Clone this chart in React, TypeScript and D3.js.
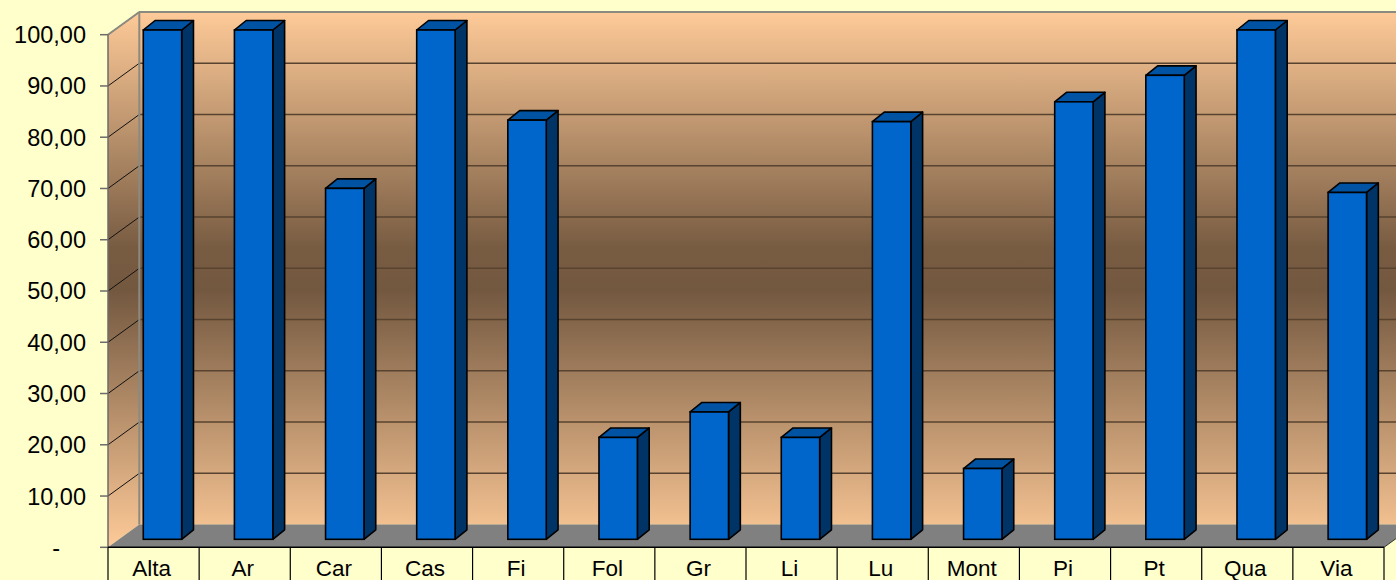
import { useEffect, useRef } from 'react'
import * as d3 from 'd3'

const categories = ['Alta', 'Ar', 'Car', 'Cas', 'Fi', 'Fol', 'Gr', 'Li', 'Lu', 'Mont', 'Pi', 'Pt', 'Qua', 'Via']
const values = [100, 100, 68.9, 100, 82.3, 20, 25, 20, 82, 13.9, 85.9, 91.1, 100, 68.1]
const tickValues = [0, 10, 20, 30, 40, 50, 60, 70, 80, 90, 100]

export default function App() {
  const svgRef = useRef<SVGSVGElement>(null)

  useEffect(() => {
    if (!svgRef.current) return
    document.body.style.margin = '0'
    document.body.style.background = '#FFFFCC'

    const svg = d3.select(svgRef.current)
    svg.selectAll('*').remove()

    const W = 1396
    const H = 580
    // oblique depth of the wall
    const depthX = 31.3
    const depthY = 22.7
    const font = 'Arial, "Liberation Sans", sans-serif'

    const x = d3.scaleBand<string>().domain(categories).range([108, 1384]).paddingInner(0).paddingOuter(0)
    const yFront = d3.scaleLinear().domain([0, 100]).range([547.3, 34.7])
    const yBar = d3.scaleLinear().domain([0, 100]).range([539.3, 30])

    const x0 = 108
    const xBack = x0 + depthX

    const defs = svg.append('defs')
    const grad = defs.append('linearGradient')
      .attr('id', 'wallGrad')
      .attr('gradientUnits', 'userSpaceOnUse')
      .attr('x1', 0).attr('x2', 0)
      .attr('y1', yFront(100) - depthY).attr('y2', yFront(0))
    grad.append('stop').attr('offset', '0%').attr('stop-color', '#FECA98')
    grad.append('stop').attr('offset', '44%').attr('stop-color', '#785C42')
    grad.append('stop').attr('offset', '52%').attr('stop-color', '#735840')
    grad.append('stop').attr('offset', '100%').attr('stop-color', '#FECA98')

    // back wall
    svg.append('rect')
      .attr('x', xBack)
      .attr('y', yFront(100) - depthY)
      .attr('width', W - xBack)
      .attr('height', yFront(0) - yFront(100))
      .attr('fill', 'url(#wallGrad)')

    // left side wall
    svg.append('polygon')
      .attr('points', [
        [x0, yFront(100)], [xBack, yFront(100) - depthY],
        [xBack, yFront(0) - depthY], [x0, yFront(0)]
      ].map(p => p.join(',')).join(' '))
      .attr('fill', 'url(#wallGrad)')

    // gridlines on back wall
    svg.append('g')
      .selectAll('line')
      .data(tickValues.slice(1))
      .join('line')
      .attr('x1', xBack)
      .attr('x2', W)
      .attr('y1', d => yFront(d) - depthY)
      .attr('y2', d => yFront(d) - depthY)
      .attr('stroke', '#57432F')
      .attr('stroke-width', 1.5)

    // gridlines on side wall
    svg.append('g')
      .selectAll('line')
      .data(tickValues.slice(1))
      .join('line')
      .attr('x1', x0)
      .attr('x2', xBack)
      .attr('y1', d => yFront(d))
      .attr('y2', d => yFront(d) - depthY)
      .attr('stroke', '#111')
      .attr('stroke-width', 1)

    // wall edges
    svg.append('line')
      .attr('x1', xBack).attr('x2', W)
      .attr('y1', yFront(100) - depthY).attr('y2', yFront(100) - depthY)
      .attr('stroke', '#8a8a80').attr('stroke-width', 2)
    svg.append('line')
      .attr('x1', x0).attr('x2', xBack)
      .attr('y1', yFront(100)).attr('y2', yFront(100) - depthY)
      .attr('stroke', '#8a8a80').attr('stroke-width', 2)
    svg.append('line')
      .attr('x1', xBack).attr('x2', xBack)
      .attr('y1', yFront(100) - depthY).attr('y2', yFront(0) - depthY)
      .attr('stroke', '#8a8a80').attr('stroke-width', 2)

    // floor
    const xEnd = x.range()[1]
    svg.append('polygon')
      .attr('points', [
        [x0, yFront(0)], [xEnd, yFront(0)],
        [xEnd + depthX, yFront(0) - depthY], [xBack, yFront(0) - depthY]
      ].map(p => p.join(',')).join(' '))
      .attr('fill', '#808080')

    // bars
    const bw = x.bandwidth()
    const barOff = bw * 0.387
    const barW = 38.4
    const bdx = 11.8
    const bdy = 9.5
    const bars = svg.append('g')
    categories.forEach((c, i) => {
      const bx = (x(c) ?? 0) + barOff
      const yt = yBar(values[i])
      const yb = yBar(0)
      bars.append('polygon')
        .attr('points', [[bx + barW, yb], [bx + barW + bdx, yb - bdy], [bx + barW + bdx, yt - bdy], [bx + barW, yt]]
          .map(p => p.join(',')).join(' '))
        .attr('fill', '#003366')
        .attr('stroke', '#000').attr('stroke-width', 1.6).attr('stroke-linejoin', 'round')
      bars.append('polygon')
        .attr('points', [[bx, yt], [bx + bdx, yt - bdy], [bx + barW + bdx, yt - bdy], [bx + barW, yt]]
          .map(p => p.join(',')).join(' '))
        .attr('fill', '#0052A3')
        .attr('stroke', '#000').attr('stroke-width', 1.6).attr('stroke-linejoin', 'round')
      bars.append('rect')
        .attr('x', bx).attr('y', yt)
        .attr('width', barW).attr('height', yb - yt)
        .attr('fill', '#0066CC')
        .attr('stroke', '#000').attr('stroke-width', 1.6)
    })

    // value axis
    svg.append('line')
      .attr('x1', x0).attr('x2', x0)
      .attr('y1', yFront(100)).attr('y2', yFront(0))
      .attr('stroke', '#6b6b6b').attr('stroke-width', 1.5)
    const ticks = svg.append('g')
    ticks.selectAll('line')
      .data(tickValues)
      .join('line')
      .attr('x1', x0 - 8).attr('x2', x0)
      .attr('y1', d => yFront(d)).attr('y2', d => yFront(d))
      .attr('stroke', '#6b6b6b').attr('stroke-width', 1.5)
    const fmt = (d: number) => d === 0 ? '-' : d3.format('.2f')(d).replace('.', ',')
    ticks.selectAll('text')
      .data(tickValues)
      .join('text')
      .attr('x', d => d === 0 ? 60 : 86)
      .attr('y', d => yFront(d))
      .attr('dy', '0.36em')
      .attr('text-anchor', 'end')
      .attr('fill', '#000')
      .style('font-family', font)
      .style('font-size', '23.5px')
      .text(d => fmt(d))

    // category table
    svg.append('line')
      .attr('x1', x0).attr('x2', xEnd)
      .attr('y1', yFront(0)).attr('y2', yFront(0))
      .attr('stroke', '#000').attr('stroke-width', 1.5)
    svg.append('line')
      .attr('x1', xEnd).attr('x2', xEnd + depthX)
      .attr('y1', yFront(0)).attr('y2', yFront(0) - depthY)
      .attr('stroke', '#333').attr('stroke-width', 1)
    svg.append('g')
      .selectAll('line')
      .data([...categories.map(c => x(c) ?? 0), xEnd])
      .join('line')
      .attr('x1', d => d).attr('x2', d => d)
      .attr('y1', yFront(0)).attr('y2', H)
      .attr('stroke', '#000').attr('stroke-width', 1.2)
    svg.append('g')
      .selectAll('text')
      .data(categories)
      .join('text')
      .attr('x', d => (x(d) ?? 0) + bw / 2 - 2)
      .attr('y', 575.5)
      .attr('text-anchor', 'middle')
      .attr('fill', '#000')
      .style('font-family', font)
      .style('font-size', '22.5px')
      .text(d => d)
  }, [])

  return (
    <div style={{ width: 1396, height: 580, overflow: 'hidden' }}>
      <svg ref={svgRef} width={1396} height={580} style={{ display: 'block' }}></svg>
    </div>
  )
}
